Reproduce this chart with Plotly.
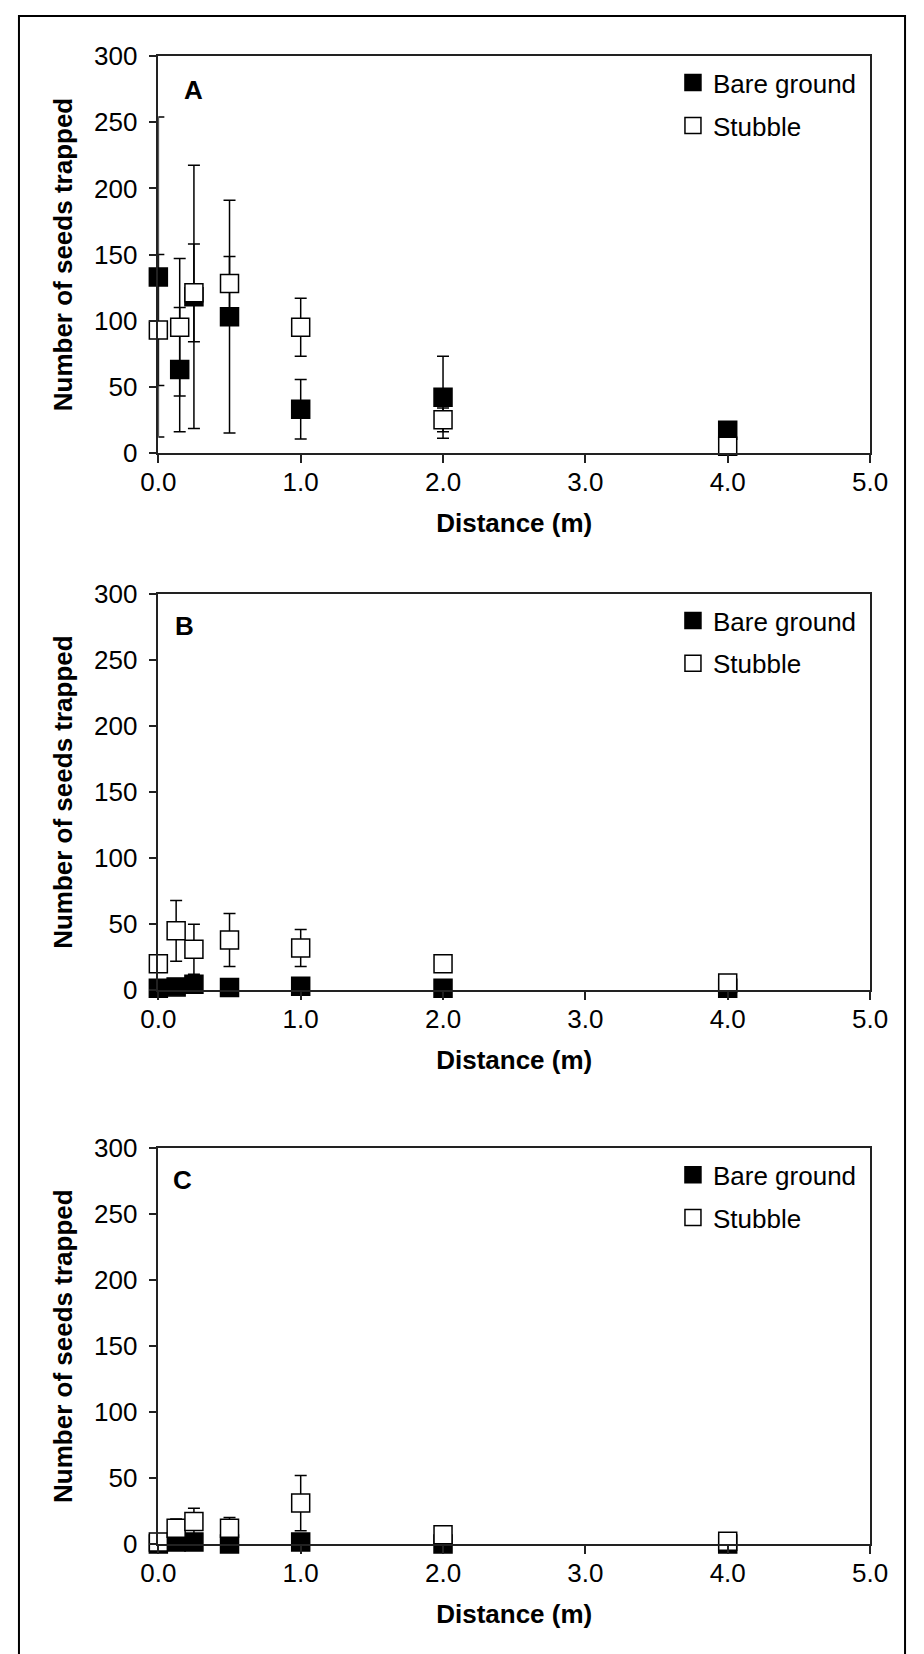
import plotly.graph_objects as go

W, H = 924, 1654
# measured placement of the page inside the photographed picture
SX, OX = 0.9655, 15.0
SY, OY = 0.984, 12.7

distance_a = [0, 0.15, 0.25, 0.5, 1.0, 2.0, 4.0]
distance_bc = [0, 0.125, 0.25, 0.5, 1.0, 2.0, 4.0]

# Panel A
a_bare = [133, 63, 118, 103, 33, 42, 17]
a_bare_err = [121, 47, 99.5, 88, 22.5, 31, 3]
a_stub = [93, 95, 121, 128, 95, 25, 5]
a_stub_err_plus = [57, 52, 37, 20.5, 22, 9, 0]
a_stub_err_minus = [42, 52, 37, 20.5, 22, 9, 0]

# Panel B
b_bare = [1.5, 2.5, 4.5, 2, 3, 1.5, 1.5]
b_bare_err = [1, 1, 1, 1, 1, 0, 0]
b_stub = [20, 45, 31, 38, 32, 20, 5.5]
b_stub_err = [4, 23, 19, 20, 14, 0, 0]

# Panel C
c_bare = [0, 1.5, 1.5, 0, 1.5, 0, 0]
c_bare_err = [0, 9, 2, 0, 2, 0, 0]
c_stub = [1.5, 12, 17, 12, 31, 7, 2]
c_stub_err = [0, 7, 10, 8, 21, 0, 0]

x_ticks = [0, 1, 2, 3, 4, 5]
x_ticktext = ["0.0", "1.0", "2.0", "3.0", "4.0", "5.0"]
y_ticks = [0, 50, 100, 150, 200, 250, 300]
panel_letters = ["A", "B", "C"]
series_names = ["Bare ground", "Stubble"]

FONT = "Liberation Sans, Arial, sans-serif"
LINE = "#222222"
FS = 26


def px(r):
    return min(1.0, max(0.0, (r - OX) / SX / W))


def py(r):
    return min(1.0, max(0.0, 1 - (r - OY) / SY / H))


panels = [
    dict(x=distance_a, bare=a_bare, bare_err=a_bare_err, bare_errm=a_bare_err,
         stub=a_stub, stub_err=a_stub_err_plus, stub_errm=a_stub_err_minus,
         top=54, bot=451.5, letter_x=191, letter_y=88),
    dict(x=distance_bc, bare=b_bare, bare_err=b_bare_err, bare_errm=b_bare_err,
         stub=b_stub, stub_err=b_stub_err, stub_errm=b_stub_err,
         top=593, bot=990, letter_x=182, letter_y=625),
    dict(x=distance_bc, bare=c_bare, bare_err=c_bare_err, bare_errm=c_bare_err,
         stub=c_stub, stub_err=c_stub_err, stub_errm=c_stub_err,
         top=1148.5, bot=1545, letter_x=180, letter_y=1180),
]

fig = go.Figure()
x_left, x_right = 156, 871

layout = dict(
    width=W, height=H, autosize=False,
    margin=dict(l=0, r=0, t=0, b=0),
    paper_bgcolor="white", plot_bgcolor="white",
    font=dict(family=FONT, size=FS, color="black"),
    showlegend=True,
)
annotations = []

for i, p in enumerate(panels):
    n = "" if i == 0 else str(i + 1)
    xa, ya = "x" + n, "y" + n
    leg = "legend" + n
    fig.add_trace(go.Scatter(
        x=p["x"], y=p["bare"], mode="markers", name=series_names[0],
        xaxis=xa, yaxis=ya, legend=leg, legendgroup="bare" + n,
        cliponaxis=False,
        marker=dict(symbol="square", size=18, color="black",
                    line=dict(color="black", width=1.5)),
        error_y=dict(type="data", array=p["bare_err"], arrayminus=p["bare_errm"],
                     symmetric=False, color="black", thickness=1.5, width=6),
    ))
    fig.add_trace(go.Scatter(
        x=p["x"], y=p["stub"], mode="markers", name=series_names[1],
        xaxis=xa, yaxis=ya, legend=leg, legendgroup="stub" + n,
        cliponaxis=False,
        marker=dict(symbol="square", size=18, color="white",
                    line=dict(color="black", width=1.5)),
        error_y=dict(type="data", array=p["stub_err"], arrayminus=p["stub_errm"],
                     symmetric=False, color="black", thickness=1.5, width=6),
    ))
    layout["xaxis" + n] = dict(
        domain=[px(x_left), px(x_right)], anchor=ya, range=[0, 5],
        tickmode="array", tickvals=x_ticks, ticktext=x_ticktext,
        ticks="outside", ticklen=8, tickwidth=1.5, tickcolor=LINE,
        showline=True, linecolor=LINE, linewidth=1.5, mirror=True,
        showgrid=False, zeroline=False,
        tickfont=dict(size=FS, family=FONT),
        ticklabelstandoff=-3,
        title=dict(text="<b>Distance (m)</b>", font=dict(size=FS, family=FONT), standoff=18),
    )
    layout["yaxis" + n] = dict(
        domain=[py(p["bot"]), py(p["top"])], anchor=xa, range=[0, 300],
        tickmode="array", tickvals=y_ticks,
        ticks="outside", ticklen=8, tickwidth=1.5, tickcolor=LINE,
        showline=True, linecolor=LINE, linewidth=1.5, mirror=True,
        showgrid=False, zeroline=False,
        tickfont=dict(size=FS, family=FONT),
        ticklabelstandoff=6,
        title=dict(text="<b>Number of seeds trapped</b>", font=dict(size=FS, family=FONT), standoff=14),
    )
    layout[leg] = dict(
        x=px(673), xanchor="left", y=py(p["top"] + 3), yanchor="top",
        bgcolor="rgba(0,0,0,0)", borderwidth=0,
        font=dict(size=FS, family=FONT),
        tracegroupgap=6,
    )
    annotations.append(dict(
        x=px(p["letter_x"]), y=py(p["letter_y"]), xref="paper", yref="paper",
        text="<b>" + panel_letters[i] + "</b>", showarrow=False,
        font=dict(size=FS, family=FONT, color="black"),
        xanchor="center", yanchor="middle",
    ))

layout["annotations"] = annotations
layout["shapes"] = [
    dict(type="rect", xref="paper", yref="paper",
         x0=1 / W, x1=1 - 1 / W, y0=-0.01, y1=1 - 1 / H,
         line=dict(color="black", width=2), fillcolor="rgba(0,0,0,0)", layer="above"),
]
fig.update_layout(**layout)
fig.write_html("out.html")
